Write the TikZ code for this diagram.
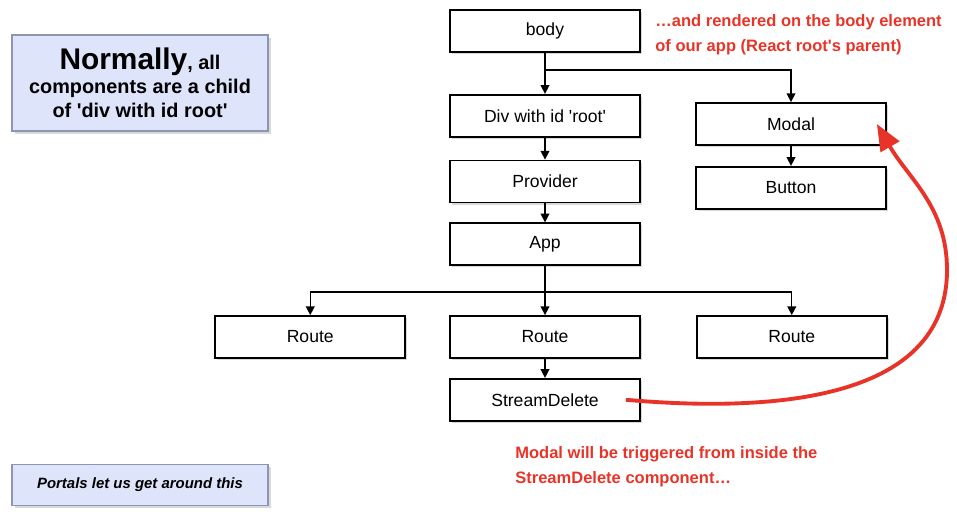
\documentclass[tikz,border=0pt]{standalone}
\usepackage{fontspec}
\setmainfont{Liberation Sans}
\usetikzlibrary{arrows.meta,positioning,shadows}
\tikzset{
  compbox/.style={draw=black, line width=1pt, fill=white,
                  minimum width=3.8cm, minimum height=0.84cm,
                  font=\fontsize{10}{12}\selectfont, inner sep=2pt,
                  drop shadow={shadow xshift=1.2pt, shadow yshift=-1.2pt,
                               opacity=0.3}},
  notebox/.style={draw=noteedge, line width=1pt, fill=notefill,
                  minimum width=5.12cm, align=center, inner sep=3pt,
                  drop shadow={shadow xshift=1.5pt, shadow yshift=-1.5pt,
                               opacity=0.3}},
  redtxt/.style ={text=portred, align=left, inner sep=0pt, anchor=north west,
                  font=\bfseries\fontsize{9.4}{14.2}\selectfont},
  tarr/.style   ={-{Triangle[length=5pt,width=5pt]}, line width=0.8pt},
  bigarr/.style ={-{Triangle[length=15pt,width=12pt]}, line width=2.2pt,
                  draw=portred},
}
\definecolor{portred}  {RGB}{232,52,40}
\definecolor{notefill} {RGB}{222,228,250}
\definecolor{noteedge} {RGB}{140,150,178}

\begin{document}
\begin{tikzpicture}[node distance=0.45cm]
  \useasboundingbox (0,0) rectangle (19.14,-10.46);
  \node[compbox] (body) at (10.90,-0.62) {body};
  \node[compbox, below=0.82cm of body] (div) {Div with id \textquotesingle root\textquotesingle};
  \node[compbox, below=0.44cm of div] (provider) {Provider};
  \node[compbox, below=0.38cm of provider] (app) {App};
  \node[compbox, below=0.98cm of app] (routeM) {Route};
  \node[compbox, left=0.86cm of routeM] (routeL) {Route};
  \node[compbox, right=1.10cm of routeM] (routeR) {Route};
  \node[compbox, below=0.38cm of routeM] (stream) {StreamDelete};
  \node[compbox] (modal) at (15.82,-2.48) {Modal};
  \node[compbox, below=0.40cm of modal] (button) {Button};

  \node[notebox, minimum height=1.92cm,
        font=\bfseries\fontsize{11.3}{13.6}\selectfont] (normally) at (2.80,-1.66)
    {{\fontsize{17}{18}\selectfont Normally}, all\\components are a child\\of \textquotesingle div with id root\textquotesingle};
  \node[notebox, minimum height=0.82cm,
        font=\bfseries\itshape\fontsize{8.5}{10}\selectfont] (portals) at (2.80,-9.70)
    {Portals let us get around this};

  \node[redtxt] (rendered) at (13.10,-0.28)
    {\ldots and rendered on the body element\\of our app (React root\textquotesingle s parent)};
  \node[redtxt] (triggered) at (10.30,-8.92)
    {Modal will be triggered from inside the\\StreamDelete component\ldots};

  \coordinate (j1) at (10.90,-1.40);
  \coordinate (j2) at (10.90,-5.84);
  \draw[tarr] (body) -- (div);
  \draw[tarr] (j1) -| (modal);
  \draw[tarr] (div) -- (provider);
  \draw[tarr] (provider) -- (app);
  \draw[line width=0.8pt] (app) -- (j2);
  \foreach \r in {routeL,routeM,routeR}
    \draw[tarr] (j2) -| (\r);
  \draw[tarr] (routeM) -- (stream);
  \draw[tarr] (modal) -- (button);

  \coordinate (turn) at (18.94,-5.40);
  \draw[bigarr] ([xshift=-0.3cm]stream.east) to[out=-5,in=-90] (turn)
    to[out=90,in=-60] ([xshift=-0.2cm]modal.east);
\end{tikzpicture}
\end{document}
